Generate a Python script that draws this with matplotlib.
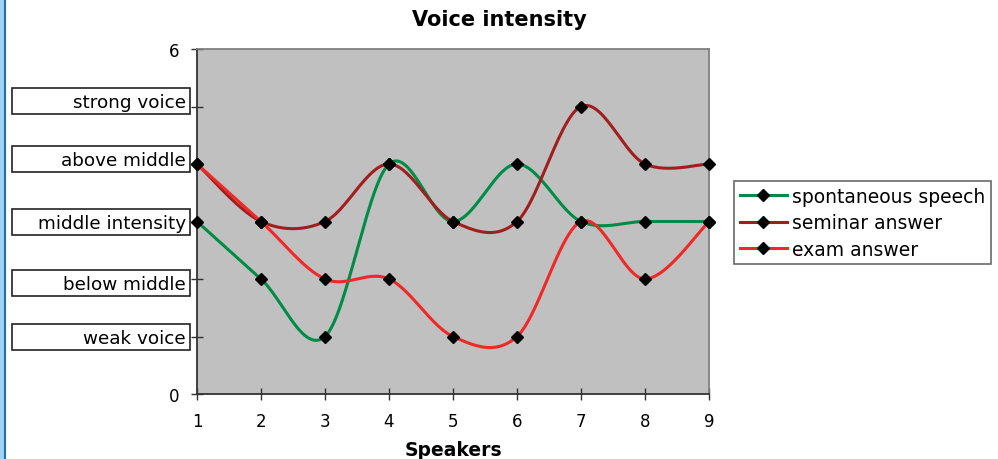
import numpy as np
import matplotlib
matplotlib.use("Agg")
import matplotlib.pyplot as plt
from matplotlib.patches import Rectangle
from matplotlib.lines import Line2D

plt.rcParams['font.family'] = ['DejaVu Sans']

speakers = [1, 2, 3, 4, 5, 6, 7, 8, 9]
spontaneous = [3, 2, 1, 4, 3, 4, 3, 3, 3]
seminar = [4, 3, 3, 4, 3, 3, 5, 4, 4]
exam = [4, 3, 2, 2, 1, 1, 3, 2, 3]
series_names = ["spontaneous speech", "seminar answer", "exam answer"]
series_colors = ["#008C46", "#A01E1E", "#F02828"]
level_labels = ["weak voice", "below middle", "middle intensity", "above middle", "strong voice"]
level_values = [1, 2, 3, 4, 5]


def smooth(xs, ys, n=30):
    # Excel-style smoothed line (Catmull-Rom via cubic Bezier)
    p = np.column_stack([xs, ys]).astype(float)
    pts = [p[0]] + list(p) + [p[-1]]
    out = []
    t = np.linspace(0, 1, n)
    for i in range(1, len(pts) - 2):
        p0, p1, p2, p3 = pts[i - 1], pts[i], pts[i + 1], pts[i + 2]
        c1 = p1 + (p2 - p0) / 6.0
        c2 = p2 - (p3 - p1) / 6.0
        seg = ((1 - t)[:, None] ** 3 * p1 + 3 * ((1 - t) ** 2 * t)[:, None] * c1
               + 3 * ((1 - t) * t ** 2)[:, None] * c2 + (t ** 3)[:, None] * p2)
        out.append(seg if i == 1 else seg[1:])
    s = np.vstack(out)
    return s[:, 0], s[:, 1]


fig = plt.figure(figsize=(9.98, 4.6), dpi=100)
W, H = 998, 460
left, right, top, bottom = 197, 709, 50, 395
ax = fig.add_axes([left / W, 1 - bottom / H, (right - left) / W, (bottom - top) / H])
ax.set_facecolor("#C0C0C0")

for ys, c in zip([spontaneous, seminar, exam], series_colors):
    sx, sy = smooth(speakers, ys)
    ax.plot(sx, sy, color=c, lw=2.2, zorder=3, clip_on=False)
for ys in [spontaneous, seminar, exam]:
    ax.plot(speakers, ys, ls='none', marker='D', ms=6.5, color='black', zorder=4, clip_on=False)

ax.set_xlim(1, 9)
ax.set_ylim(0, 6)
ax.set_xticks(speakers)
ax.set_xticklabels([str(s) for s in speakers])
ax.set_yticks([0, 1, 2, 3, 4, 5, 6])
ax.set_yticklabels(["0", "", "", "", "", "", "6"])
ax.tick_params(direction='inout', length=8, width=1, colors='#333333', labelcolor='black', labelsize=12, pad=9)
ax.tick_params(axis='y', pad=9)
for s in ['left', 'bottom']:
    ax.spines[s].set_color('#333333')
    ax.spines[s].set_linewidth(1.3)
for s in ['top', 'right']:
    ax.spines[s].set_color('#808080')
    ax.spines[s].set_linewidth(1.3)

ax.set_xlabel("Speakers", fontsize=13.5, fontweight='bold', labelpad=7)
fig.text(0.5, 1 - 20 / H, "Voice intensity", ha='center', va='center', fontsize=15, fontweight='bold')

# level label boxes
box_centers = [338, 284, 223, 160, 102]
for lab, yc in zip(level_labels, box_centers):
    x0, x1, h = 12, 190, 26
    fig.patches.append(Rectangle((x0 / W, 1 - (yc + h / 2) / H), (x1 - x0) / W, h / H,
                                 transform=fig.transFigure, facecolor='white',
                                 edgecolor='#222222', lw=1.2, zorder=5))
    fig.text((x1 - 4) / W, 1 - (yc + 1) / H, lab, ha='right', va='center', fontsize=13.2, zorder=6)

# left blue border
fig.patches.append(Rectangle((0, 0), 4 / W, 1, transform=fig.transFigure,
                             facecolor='#9FD4F2', edgecolor='none'))
fig.add_artist(Line2D([4.5 / W, 4.5 / W], [0, 1], transform=fig.transFigure, color='#1B6FB5', lw=1.5))

handles = [Line2D([], [], color=c, lw=2.2, marker='D', ms=6, mfc='black', mec='black')
           for c in series_colors]
leg = fig.legend(handles, series_names, loc='upper left', bbox_to_anchor=(734 / W, 1 - 182 / H),
                 fontsize=13.5, frameon=True, fancybox=False, handlelength=2.5,
                 borderpad=0.3, labelspacing=0.4, handletextpad=0.3, borderaxespad=0)
leg.get_frame().set_edgecolor('#444444')
leg.get_frame().set_linewidth(1.2)

fig.savefig("out.png", dpi=100)
